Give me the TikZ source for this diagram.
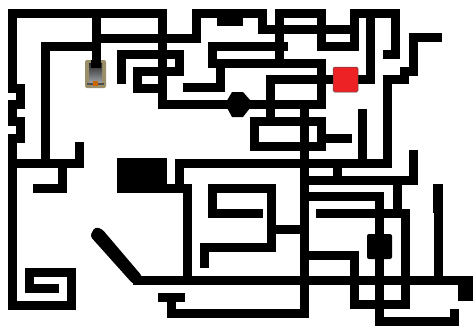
\documentclass[tikz,border=0pt]{standalone}
\usetikzlibrary{shapes.geometric}
\definecolor{alarmred}{HTML}{ED2224}
\definecolor{tankside}{HTML}{9A8F68}
\definecolor{tankbody}{HTML}{9A9EA2}
\begin{document}
\begin{tikzpicture}[x=1bp, y=-1bp, wall/.style={line width=9bp, line cap=rect, line join=miter}, blob/.style={fill=black}]
\useasboundingbox (0,0) rectangle (473,326);
\draw[wall] (162,104) -- (162,13) -- (12,13) -- (12,88) -- (20,88) -- (20,104) -- (12,104) -- (12,121) -- (20,121) -- (20,138) -- (12,138) -- (12,305) -- (71,305) -- (71,272) -- (29,272) -- (29,288) -- (54,288);
\draw[wall] (162,104) -- (235,104);
\draw[wall] (45,163) -- (45,46) -- (96,46);
\draw[wall] (96,13) -- (96,62) (96,38) -- (196,38) -- (196,13) -- (262,13) -- (262,29) -- (354,29);
\draw[wall] (12,163) -- (79,163) -- (79,146) (62,163) -- (62,188) -- (37,188);
\draw[wall] (121,79) -- (121,54) -- (179,54) -- (179,71) -- (137,71) -- (137,88) -- (162,88);
\draw[wall] (221,21) -- (238,21);
\draw[wall] (283,46) -- (212,46) -- (212,63) -- (321,63) -- (321,104) -- (250,104);
\draw[wall] (220,63) -- (220,87) -- (187,87);
\draw[wall] (279,63) -- (279,13) -- (321,13) -- (321,46) -- (354,46) -- (354,13) -- (395,13) -- (395,54) -- (387,54);
\draw[wall] (370,13) -- (370,79) -- (270,79) -- (270,121);
\draw[wall] (437,37) -- (413,37) -- (413,71) -- (404,71) -- (404,79) -- (387,79) -- (387,163);
\draw[wall] (254,121) -- (321,121) -- (321,146) -- (254,146) -- cycle;
\draw[wall] (304,104) -- (304,313) -- (171,313) -- (171,297);
\draw[wall] (325,138) -- (347,138);
\draw[wall] (362,113) -- (362,163);
\draw[wall] (179,188) -- (179,163) -- (387,163);
\draw[wall] (413,154) -- (413,180) -- (304,180) (337,163) -- (337,180);
\draw[wall] (304,196) -- (379,196) -- (379,321) -- (454,321) -- (454,313);
\draw[wall] (397,180) -- (397,213);
\draw[wall] (320,213) -- (405,213) -- (405,304) -- (354,304) -- (354,255) -- (304,255);
\draw[wall] (187,280) -- (187,188) -- (121,188);
\draw[wall] (258,213) -- (212,213) -- (212,188) -- (271,188) -- (271,247) -- (204,247) -- (204,263);
\draw[wall] (271,229) -- (304,229);
\draw[wall] (137,280) -- (470,280);
\draw[wall] (438,213) -- (438,280);
\draw[wall] (162,297) -- (180,297);
\fill[blob] (117,158) rectangle (167,192);
\fill[blob] (433,184) rectangle (443,213);
\fill[blob, rounded corners=2bp] (367,234) rectangle (392,259);
\fill[blob] (458,276) rectangle (473,301);
\fill[blob] (225,104) -- (232,92) -- (243,92) -- (250,100) -- (250,108) -- (243,117) -- (232,117) -- cycle;
\fill[blob, rounded corners=3bp] (90,236) -- (95,227) -- (102,229) -- (142,276) -- (142,284) -- (133,284) -- cycle;
\fill[alarmred, draw=black!70, line width=.5bp, rounded corners=1.5bp] (333,67) rectangle (358,92);
\fill[tankside, rounded corners=2bp] (85,60) rectangle (106,88);
\shade[top color=black!85, bottom color=tankbody] (89,63) rectangle (102,82);
\fill[black] (91,60) rectangle (101,68);
\fill[black!70] (87,83) rectangle (104,85);
\fill[orange!80!black] (93,81) rectangle (98,86);
\end{tikzpicture}
\end{document}
